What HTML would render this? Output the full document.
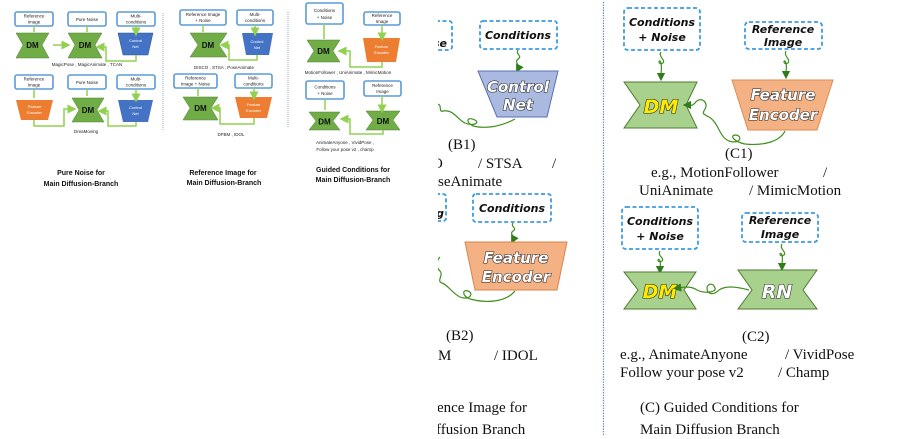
<!DOCTYPE html>
<html><head><meta charset="utf-8"><style>
html,body{margin:0;padding:0;background:#fff;width:897px;height:439px;overflow:hidden}
svg{display:block}
.s{font-family:"Liberation Sans",sans-serif;font-size:4.5px;fill:#222;text-anchor:middle}
.t{font-family:"Liberation Sans",sans-serif;font-size:7px;fill:#111;text-anchor:middle;font-weight:bold}
.sb{fill:#fff;stroke:#5b9bd5;stroke-width:1.6}
.g{fill:#70ad47;stroke:#507e32;stroke-width:.5}
.gl{fill:none;stroke:#92d050;stroke-width:1.5}
.dm{font-family:"Liberation Sans",sans-serif;font-weight:bold;font-size:8px;fill:#111;text-anchor:middle}
.w{font-family:"Liberation Sans",sans-serif;font-size:4px;fill:#fff;text-anchor:middle}
.db{fill:#fff;stroke:#3d9be0;stroke-width:1.8;stroke-dasharray:4 2.5}
.it{font-family:"DejaVu Sans",sans-serif;font-style:italic;font-weight:bold;font-size:11px;fill:#111;text-anchor:middle}
.big{font-family:"DejaVu Sans",sans-serif;font-style:italic;font-weight:900;fill:#fff;stroke:#222;stroke-width:1.1;paint-order:stroke;text-anchor:middle}
.ser{font-family:"Liberation Serif",serif;font-size:15px;fill:#111}
.wv{fill:none;stroke:#3f8f1f;stroke-width:1.2}
.pg{fill:#a9d18e;stroke:#4e7a30;stroke-width:1}
</style></head><body>
<svg width="897" height="439" viewBox="0 0 897 439" xmlns="http://www.w3.org/2000/svg">
<defs>
<marker id="ga" markerWidth="6" markerHeight="6" refX="3" refY="3" orient="auto"><path d="M0,0 L6,3 L0,6z" fill="#92d050"/></marker>
<marker id="da" markerWidth="7" markerHeight="7" refX="3.5" refY="3.5" orient="auto"><path d="M0,0 L7,3.5 L0,7z" fill="#2e7d1a"/></marker>
<clipPath id="cl"><rect x="438" y="0" width="165" height="439"/></clipPath>
</defs>
<!-- LEFT small panel -->
<g>
<rect class="sb" x="15" y="12" width="38" height="14" rx="2"/><text class="s" x="34" y="17.5">Reference</text><text class="s" x="34" y="23.5">Image</text>
<rect class="sb" x="68" y="12" width="38" height="14" rx="2"/><text class="s" x="87" y="21">Pure Noise</text>
<rect class="sb" x="117" y="12" width="38" height="14" rx="2"/><text class="s" x="136" y="17.5">Multi-</text><text class="s" x="136" y="23.5">conditions</text>
<path class="g" d="M16,33 L49,33 L42,45 L49,58 L16,58 L23,45z"/><text class="dm" x="32.5" y="48">DM</text>
<path class="g" d="M68,33 L102,33 L95,45 L102,58 L68,58 L75,45z"/><text class="dm" x="85" y="48">DM</text>
<path d="M118,33 L153,33 L148,55 L123,55z" fill="#4472c4" stroke="#2f528f" stroke-width=".5"/><text class="w" x="135.5" y="42">Control</text><text class="w" x="135.5" y="48">Net</text>
<path class="gl" d="M34,26 V32 M87,26 V32 M136,26 V32" marker-end="url(#ga)"/>
<path class="gl" d="M53,45 H66" marker-end="url(#ga)"/>
<path class="gl" d="M136,55 V61 H106 V47 H100" marker-end="url(#ga)"/>
<text class="s" x="87" y="66">MagicPose ,  MagicAnimate ,   TCAN</text>
<rect class="sb" x="15" y="75" width="38" height="14" rx="2"/><text class="s" x="34" y="80.5">Reference</text><text class="s" x="34" y="86.5">Image</text>
<rect class="sb" x="68" y="75" width="38" height="14" rx="2"/><text class="s" x="87" y="84">Pure Noise</text>
<rect class="sb" x="117" y="75" width="38" height="14" rx="2"/><text class="s" x="136" y="80.5">Multi-</text><text class="s" x="136" y="86.5">conditions</text>
<path d="M16,100 L53,100 L48,120 L21,120z" fill="#ed7d31"/><text class="w" x="34.5" y="108">Feature</text><text class="w" x="34.5" y="114">Encoder</text>
<path class="g" d="M72,98 L104,98 L97,110 L104,122 L72,122 L79,110z"/><text class="dm" x="88" y="113">DM</text>
<path d="M118,100 L153,100 L148,122 L123,122z" fill="#4472c4"/><text class="w" x="135.5" y="109">Control</text><text class="w" x="135.5" y="115">Net</text>
<path class="gl" d="M34,89 V98 M87,89 V96 M136,89 V98" marker-end="url(#ga)"/>
<path class="gl" d="M34,120 V126 H64 V109 H72" marker-end="url(#ga)"/>
<path class="gl" d="M136,122 V126 H108 V111 H102" marker-end="url(#ga)"/>
<text class="s" x="86" y="133">DreaMoving</text>
<text class="t" x="81" y="175">Pure Noise for</text><text class="t" x="81" y="186">Main Diffusion-Branch</text>
<line x1="163" y1="13" x2="163" y2="130" stroke="#8fa9d6" stroke-dasharray="1 1"/>
<!-- middle -->
<rect class="sb" x="180" y="10" width="46" height="15" rx="2"/><text class="s" x="203" y="16">Reference Image</text><text class="s" x="203" y="22">+ Noise</text>
<rect class="sb" x="237" y="10" width="36" height="15" rx="2"/><text class="s" x="255" y="16">Multi-</text><text class="s" x="255" y="22">conditions</text>
<path class="g" d="M190,33 L227,33 L219,45 L227,57 L190,57 L198,45z"/><text class="dm" x="208" y="48">DM</text>
<path d="M242,33 L273,33 L269,55 L246,55z" fill="#4472c4"/><text class="w" x="257" y="43">Control</text><text class="w" x="257" y="49">Net</text>
<path class="gl" d="M203,25 V32 M255,25 V32" marker-end="url(#ga)"/>
<path class="gl" d="M257,55 V60 H229 V45 H224" marker-end="url(#ga)"/>
<text class="s" x="224" y="69">DISCO  ,   STSA  ,   PoseAnimate</text>
<rect class="sb" x="174" y="74" width="43" height="14" rx="2"/><text class="s" x="195.5" y="79.5">Reference</text><text class="s" x="195.5" y="85.5">Image + Noise</text>
<rect class="sb" x="235" y="74" width="37" height="14" rx="2"/><text class="s" x="253.5" y="79.5">Multi-</text><text class="s" x="253.5" y="85.5">conditions</text>
<path class="g" d="M183,97 L218,97 L211,108 L218,120 L183,120 L190,108z"/><text class="dm" x="200.5" y="111">DM</text>
<path d="M235,97 L272,97 L267,118 L240,118z" fill="#ed7d31"/><text class="w" x="253.5" y="106">Feature</text><text class="w" x="253.5" y="112">Encoder</text>
<path class="gl" d="M198,88 V96 M254,88 V96" marker-end="url(#ga)"/>
<path class="gl" d="M254,118 V124 H220 V108 H215" marker-end="url(#ga)"/>
<text class="s" x="231" y="136">DFBM  ,   IDOL</text>
<text class="t" x="223" y="175">Reference Image for</text><text class="t" x="224" y="185">Main Diffusion-Branch</text>
<line x1="288" y1="12" x2="288" y2="128" stroke="#8fa9d6" stroke-dasharray="1 1"/>
<!-- right small -->
<rect class="sb" x="306" y="3" width="37" height="21" rx="2"/><text class="s" x="324.5" y="12">Conditions</text><text class="s" x="324.5" y="19">+ Noise</text>
<rect class="sb" x="364" y="12" width="36" height="13" rx="2"/><text class="s" x="382" y="17">Reference</text><text class="s" x="382" y="23">Image</text>
<path class="g" d="M307,40 L340,40 L333,51 L340,62 L307,62 L314,51z"/><text class="dm" x="323.5" y="54">DM</text>
<path d="M363,38 L400,38 L396,62 L367,62z" fill="#ed7d31"/><text class="w" x="381.5" y="48">Feature</text><text class="w" x="381.5" y="54">Encoder</text>
<path class="gl" d="M324,24 V39 M382,25 V37" marker-end="url(#ga)"/>
<path class="gl" d="M382,62 V67 H350 V51 H342" marker-end="url(#ga)"/>
<text class="s" x="348" y="74">MotionFollower ,  UniAnimate ,  MimicMotion</text>
<rect class="sb" x="306" y="81" width="38" height="18" rx="2"/><text class="s" x="325" y="88.5">Conditions</text><text class="s" x="325" y="95">+ Noise</text>
<rect class="sb" x="364" y="81" width="37" height="15" rx="2"/><text class="s" x="382.5" y="87">Reference</text><text class="s" x="382.5" y="93">Image</text>
<path class="g" d="M309,112 L340,112 L333,121 L340,130 L309,130 L316,121z"/><text class="dm" x="324.5" y="124.5">DM</text>
<path class="g" d="M366,111 L400,111 L393,120 L400,130 L366,130 L373,120z"/><text class="dm" x="383" y="124">DM</text>
<path class="gl" d="M325,99 V110 M382,96 V109" marker-end="url(#ga)"/>
<path class="gl" d="M383,130 V134 H350 V119 H344" marker-end="url(#ga)"/>
<text class="s" x="345" y="144">AnimateAnyone  ,    VividPose ,</text>
<text class="s" x="345" y="151">Follow your pose v2  ,    champ</text>
<text class="t" x="353" y="172">Guided Conditions for</text><text class="t" x="353" y="182">Main Diffusion-Branch</text>
</g>
<!-- B column (clipped) -->
<g clip-path="url(#cl)">
<rect class="db" x="420" y="21" width="32" height="29" rx="3"/><text class="it" x="440" y="47">se</text>
<rect class="db" x="480" y="21" width="77" height="28" rx="3"/><text class="it" x="518" y="39">Conditions</text>
<path class="wv" d="M518,50 c-3,4 5,6 0,9 c-4,3 2,6 0,10" marker-end="url(#da)"/>
<path d="M478,71 L558,71 L547,117 L497,117z" fill="#a9b9e0" stroke="#5a72b5"/>
<text class="big" x="518" y="92" font-size="15">Control</text><text class="big" x="518" y="110" font-size="15">Net</text>
<path class="wv" d="M515,119 c-15,8 -30,10 -42,7 c-8,-4 -6,-10 2,-6 c6,4 -4,6 -10,3 c-8,-4 -12,-14 -22,-12 c-6,2 2,-10 -10,-6 c-4,2 -6,0 -6,0"/>
<rect class="db" x="420" y="194" width="26" height="27" rx="3"/><text class="it" x="440" y="217">g</text>
<rect class="db" x="473" y="194" width="78" height="28" rx="3"/><text class="it" x="512" y="212">Conditions</text>
<path class="wv" d="M513,223 c-3,4 5,5 0,8 c-4,3 2,5 0,9" marker-end="url(#da)"/>
<path d="M465,242 L567,242 L557,290 L475,290z" fill="#f4b183" stroke="#d9844e"/>
<text class="big" x="516" y="263" font-size="15">Feature</text><text class="big" x="516" y="282" font-size="15">Encoder</text>
<path class="wv" d="M515,291 c-10,12 -30,12 -45,8 c-8,-3 -8,-10 -2,-8 c6,2 2,10 -8,6 c-8,-4 -12,-12 -18,-14 c-6,-2 2,-8 -2,-12 c-4,-3 -4,-10 0,-14"/>
<text class="ser" x="448" y="149">(B1)</text>
<text class="ser" x="432" y="168">O</text><text class="ser" x="478" y="168">/ STSA</text><text class="ser" x="552" y="168">/</text>
<text class="ser" x="438" y="186">seAnimate</text>
<text class="ser" x="446" y="340">(B2)</text>
<text class="ser" x="438" y="360">M</text><text class="ser" x="494" y="360">/ IDOL</text>
<text class="ser" x="432" y="412" font-size="16">rence Image for</text>
<text class="ser" x="436" y="434" font-size="16">ffusion Branch</text>
</g>
<line x1="603.5" y1="2" x2="603.5" y2="435" stroke="#5a7fd0" stroke-width="1.2" stroke-dasharray="1.3 1.3"/>
<!-- C1 -->
<rect class="db" x="624" y="8" width="76" height="42" rx="4"/><text class="it" x="662" y="26">Conditions</text><text class="it" x="662" y="41">+ Noise</text>
<rect class="db" x="745" y="22" width="77" height="27" rx="4"/><text class="it" x="783" y="33">Reference</text><text class="it" x="783" y="46">Image</text>
<path class="wv" d="M661,52 c-3,5 5,8 2,11 c-6,3 -4,-6 -2,0 c1,4 0,8 0,14" marker-end="url(#da)"/>
<path class="wv" d="M786,51 c-3,5 5,8 2,12 c-6,3 -4,-6 -2,0 c1,3 0,7 0,12" marker-end="url(#da)"/>
<path class="pg" d="M624,82 L697,82 L686,105 L697,128 L624,128 L640,105z"/>
<text class="big" x="661" y="113" font-size="19" style="fill:#ffeb00">DM</text>
<path d="M732,80 L833,80 L817,130 L748,130z" fill="#f4b183" stroke="#e08b4f"/>
<text class="big" x="783" y="100" font-size="15">Feature</text><text class="big" x="783" y="120" font-size="15">Encoder</text>
<path class="wv" d="M785,131 c-5,10 -20,15 -40,13 c-10,-2 -16,-8 -10,-9 c8,0 6,10 -6,6 c-10,-4 -10,-18 -20,-24 c-8,-4 -6,-4 -4,-8 c4,-6 -4,-14 -10,-6 c-4,4 -5,2 -8,2" marker-end="url(#da)"/>
<text class="ser" x="725" y="158">(C1)</text>
<text class="ser" x="651" y="177">e.g., MotionFollower</text><text class="ser" x="823" y="177">/</text>
<text class="ser" x="639" y="195">UniAnimate</text><text class="ser" x="749" y="195">/ MimicMotion</text>
<!-- C2 -->
<rect class="db" x="622" y="207" width="76" height="42" rx="4"/><text class="it" x="660" y="225">Conditions</text><text class="it" x="660" y="240">+ Noise</text>
<rect class="db" x="742" y="213" width="76" height="29" rx="4"/><text class="it" x="780" y="224">Reference</text><text class="it" x="780" y="238">Image</text>
<path class="wv" d="M660,251 c-3,5 5,7 2,10 c-6,3 -4,-5 -2,0 c1,3 0,5 0,9" marker-end="url(#da)"/>
<path class="wv" d="M782,244 c-3,5 5,8 2,11 c-6,3 -4,-5 -2,0 c1,3 0,6 0,12" marker-end="url(#da)"/>
<path class="pg" d="M624,272 L696,272 L684,290 L696,309 L624,309 L638,290z"/>
<text class="big" x="660" y="298" font-size="19" style="fill:#ffeb00">DM</text>
<path class="pg" d="M738,270 L817,270 L803,290 L817,309 L738,309 L752,290z"/>
<text class="big" x="777" y="298" font-size="19">RN</text>
<path class="wv" d="M749,290 c-15,-4 -24,-4 -30,0 c-6,6 -12,4 -12,-2 c0,-4 6,-6 8,0 c2,4 -10,6 -18,2 c-6,-4 -12,-3 -20,-2" marker-end="url(#da)"/>
<text class="ser" x="742" y="341">(C2)</text>
<text class="ser" x="620" y="359">e.g., AnimateAnyone</text><text class="ser" x="785" y="359">/ VividPose</text>
<text class="ser" x="620" y="377">Follow your pose v2</text><text class="ser" x="778" y="377">/ Champ</text>
<text class="ser" x="640" y="412" font-size="16">(C) Guided Conditions for</text>
<text class="ser" x="640" y="434" font-size="16">Main Diffusion Branch</text>
</svg>
</body></html>
